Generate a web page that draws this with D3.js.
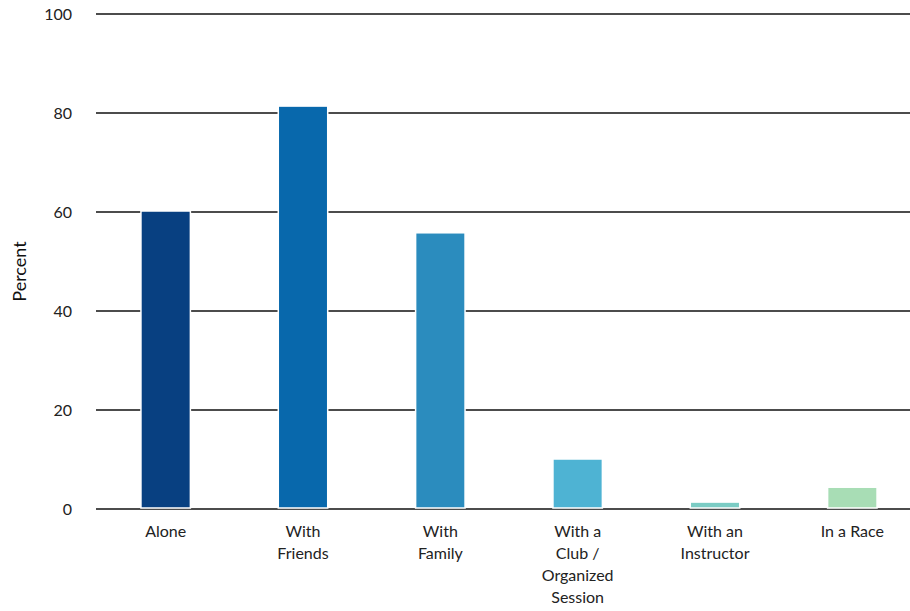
<!DOCTYPE html>
<html>
<head>
<meta charset="utf-8">
<script src="https://cdn.jsdelivr.net/npm/d3@7"></script>
<style>
  html, body { margin: 0; padding: 0; background: #fff; }
  svg { display: block; font-family: Lato, "Noto Sans", sans-serif; }
</style>
</head>
<body>
<svg id="chart" width="910" height="611"></svg>
<script>
// Share of respondents by who they usually go with
const categories = ["Alone", "With Friends", "With Family", "With a Club / Organized Session", "With an Instructor", "In a Race"];
const values = [60.2, 81.4, 55.8, 10.1, 1.4, 4.4];
const colors = ["#084081", "#0868ac", "#2b8cbe", "#4eb3d3", "#7bccc4", "#a8ddb5"];
const yTicks = [0, 20, 40, 60, 80, 100];
const yTitle = "Percent";

const W = 910, H = 611;
const margin = { top: 14, right: 0, bottom: 102, left: 96 };
const svg = d3.select("#chart");

const y = d3.scaleLinear().domain([0, 100]).range([H - margin.bottom, margin.top]);
const x = d3.scaleBand().domain(categories).range([margin.left + 1, margin.left + 825]).paddingInner(0.64).paddingOuter(0.32);

// horizontal gridlines
svg.append("g")
  .selectAll("line").data(yTicks).join("line")
  .attr("x1", margin.left).attr("x2", W)
  .attr("y1", d => y(d)).attr("y2", d => y(d))
  .attr("stroke", "#111").attr("stroke-width", 1.6);

// y tick labels
const yAxis = d3.axisLeft(y).tickValues(yTicks).tickSize(0).tickPadding(0);
const gy = svg.append("g").attr("transform", `translate(${margin.left - 24},0)`).call(yAxis);
gy.select(".domain").remove();
gy.selectAll("text").attr("font-size", 16).attr("fill", "#222").attr("font-family", "Lato, 'Noto Sans', sans-serif");

// bars
svg.append("g")
  .selectAll("rect").data(categories).join("rect")
  .attr("x", d => x(d))
  .attr("width", x.bandwidth())
  .attr("y", (d, i) => y(values[i]))
  .attr("height", (d, i) => y(0) - y(values[i]) - 1)
  .attr("fill", (d, i) => colors[i])
  .attr("stroke", "#fff").attr("stroke-width", 1.5);

// x axis labels with wrapping
const xAxis = d3.axisBottom(x).tickSize(0).tickPadding(0);
const gx = svg.append("g").attr("transform", `translate(0,${y(0)})`).call(xAxis);
gx.select(".domain").remove();
gx.selectAll("text")
  .attr("font-size", 16).attr("fill", "#222").attr("font-family", "Lato, 'Noto Sans', sans-serif")
  .each(function(d) {
    const t = d3.select(this);
    const words = d.split(" ");
    t.text(null);
    const maxW = 80;
    let line = [];
    let lineNo = 0;
    let tspan = t.append("tspan").attr("x", 0).attr("y", 28);
    for (const w of words) {
      line.push(w);
      tspan.text(line.join(" "));
      if (tspan.node().getComputedTextLength() > maxW && line.length > 1) {
        line.pop();
        tspan.text(line.join(" "));
        line = [w];
        lineNo++;
        tspan = t.append("tspan").attr("x", 0).attr("y", 28 + lineNo * 22).text(w);
      }
    }
  })
  .attr("dy", null);

// y axis title
svg.append("text")
  .attr("transform", `translate(26,${(y(0) + y(100)) / 2 + 10}) rotate(-90)`)
  .attr("text-anchor", "middle")
  .attr("font-size", 18).attr("fill", "#111")
  .text(yTitle);
</script>
</body>
</html>
